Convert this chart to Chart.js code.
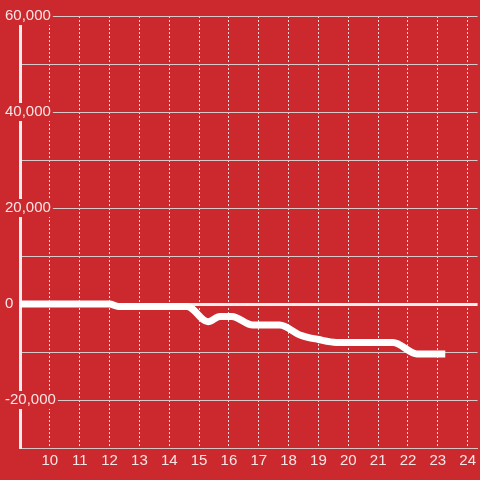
<!DOCTYPE html>
<html>
<head>
<meta charset="utf-8">
<script src="https://cdn.jsdelivr.net/npm/chart.js@4/dist/chart.umd.min.js"></script>
<style>
  html, body { margin: 0; padding: 0; background: #cc292e; }
  #wrap { width: 480px; height: 480px; }
</style>
</head>
<body>
<div id="wrap"><canvas id="myChart" width="480" height="480"></canvas></div>
<script>
// values
var hours = [8.5, 9, 10, 11, 12, 12.3, 13, 14, 14.6, 15.3, 15.7, 16.1, 16.8, 17.7, 18.4, 19, 19.6, 20.5, 21.5, 22.3, 23.25];
var balance = [0, 0, 0, 0, 0, -500, -500, -500, -500, -3700, -2600, -2600, -4400, -4400, -6500, -7400, -8000, -8000, -8000, -10400, -10400];
var xTicks = [10, 11, 12, 13, 14, 15, 16, 17, 18, 19, 20, 21, 22, 23, 24];
var yTicks = [-30000, -20000, -10000, 0, 10000, 20000, 30000, 40000, 50000, 60000];
var yLabelled = [-20000, 0, 20000, 40000, 60000];

var bg = '#cc292e';
var points = [];
for (var i = 0; i < hours.length; i++) {
  points.push({ x: hours[i], y: balance[i] });
}

var ctx = document.getElementById("myChart").getContext('2d');

var chart = new Chart(ctx, {
  type: 'line',
  data: {
    datasets: [{
      data: points,
      borderColor: '#ffffff',
      borderWidth: 7,
      pointRadius: 0,
      fill: false,
      cubicInterpolationMode: 'monotone',
      borderCapStyle: 'butt'
    }]
  },
  options: {
    responsive: false,
    animation: false,
    layout: { padding: { left: 5, top: 16, right: 0, bottom: 0 } },
    plugins: { legend: { display: false }, tooltip: { enabled: false } },
    scales: {
      x: {
        type: 'linear',
        min: 9,
        max: 24.333,
        afterBuildTicks: function (scale) {
          scale.ticks = xTicks.map(function (v) { return { value: v }; });
        },
        afterFit: function (scale) { scale.height = 32; },
        grid: {
          color: '#eadada',
          lineWidth: 1,
          drawTicks: false
        },
        border: { display: true, color: '#d4c4c4', width: 1, dash: [2, 2] },
        ticks: {
          padding: 4,
          color: 'rgba(255,255,255,0.88)',
          font: { family: "'Liberation Sans', Arial, sans-serif", size: 15 },
          maxRotation: 0,
          callback: function (v) { return String(v); }
        }
      },
      y: {
        type: 'linear',
        min: -30000,
        max: 60000,
        afterBuildTicks: function (scale) {
          scale.ticks = yTicks.map(function (v) { return { value: v }; });
        },
        afterFit: function (scale) { scale.width = 15; },
        grid: {
          drawTicks: false,
          color: function (c) { return c.tick && c.tick.value === 0 ? '#eeeeee' : '#d8c8c8'; },
          lineWidth: function (c) { return c.tick && c.tick.value === 0 ? 3 : 1; }
        },
        border: { display: true, color: '#eeeeee', width: 3 },
        ticks: {
          mirror: true,
          padding: -15,
          color: 'rgba(255,255,255,0.88)',
          font: { family: "'Liberation Sans', Arial, sans-serif", size: 15 },
          showLabelBackdrop: true,
          backdropColor: bg,
          backdropPadding: { left: 1, right: 2, top: 0, bottom: 0 },
          callback: function (v) {
            if (yLabelled.indexOf(v) < 0) return '';
            return v.toLocaleString('en-US');
          }
        }
      }
    }
  }
});
</script>
</body>
</html>
